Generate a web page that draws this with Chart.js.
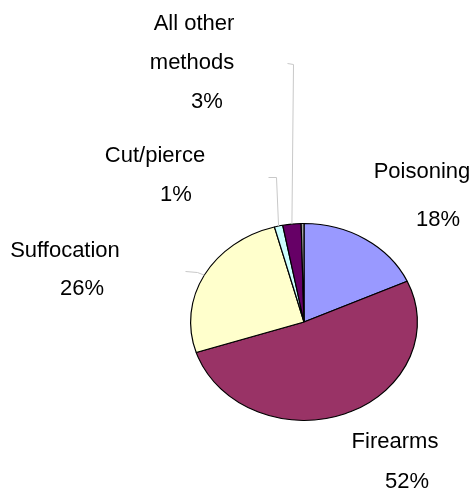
<!DOCTYPE html>
<html lang="en">
<head>
    <meta charset="UTF-8">
    <title>Methods</title>
    <script src="https://cdn.jsdelivr.net/npm/chart.js"></script>
    <style>
        html, body { margin: 0; padding: 0; background: #fff; }
        #wrap { width: 476px; height: 491px; }
    </style>
</head>
<body>
    <div id="wrap"><canvas id="pieChart" width="476" height="491"></canvas></div>

    <script>
        // Values (share of all cases, %)
        const methods = ['Poisoning', 'Firearms', 'Suffocation', 'Cut/pierce', 'All other methods', ''];
        const shares = [18.2, 51.8, 25.8, 1.2, 2.6, 0.4];
        const shareLabels = ['18%', '52%', '26%', '1%', '3%', ''];
        const sliceColors = ['#9999FF', '#993366', '#FFFFCC', '#CCFFFF', '#660066', '#A6A6A6'];

        // Label placement: [centerX, baseline] per text line, and leader elbows
        const labelLayout = [
            { lines: [[422, 178], [438, 226]], leader: null },
            { lines: [[395, 448], [407, 488]], leader: null },
            { lines: [[65, 257], [82, 295]], leader: [[197, 272], [185, 271]] },
            { lines: [[155, 162], [176, 201]], leader: [[276, 177], [268, 177]] },
            { lines: [[194, 30], [192, 69], [207, 108]], leader: [[293, 64], [287, 63]] },
            { lines: [], leader: null }
        ];

        const squash = 0.868; // the pie is drawn flattened
        const textFont = '22px "Liberation Sans", Arial, sans-serif';

        function nameLines(name) {
            if (name === 'All other methods') return ['All other', 'methods'];
            return [name];
        }

        const flattenPlugin = {
            id: 'flatten',
            beforeDatasetsDraw(chart) {
                const { ctx, chartArea } = chart;
                const cy = (chartArea.top + chartArea.bottom) / 2;
                ctx.save();
                ctx.translate(0, cy);
                ctx.scale(1, squash);
                ctx.translate(0, -cy);
            },
            afterDatasetsDraw(chart) {
                chart.ctx.restore();
            }
        };

        const labelPlugin = {
            id: 'sliceLabels',
            afterDraw(chart) {
                const ctx = chart.ctx;
                const arcs = chart.getDatasetMeta(0).data;
                ctx.save();

                // leader lines from slice edge
                ctx.strokeStyle = '#C8C8C8';
                ctx.lineWidth = 1;
                arcs.forEach((arc, i) => {
                    const lay = labelLayout[i];
                    if (!lay || !lay.leader) return;
                    const mid = (arc.startAngle + arc.endAngle) / 2;
                    const r = arc.outerRadius;
                    const sx = arc.x + r * Math.cos(mid);
                    const sy = arc.y + r * Math.sin(mid) * squash;
                    ctx.beginPath();
                    ctx.moveTo(sx, sy);
                    lay.leader.forEach(p => ctx.lineTo(p[0] + 0.5, p[1] + 0.5));
                    ctx.stroke();
                });

                // texts
                ctx.fillStyle = '#000';
                ctx.font = textFont;
                ctx.textAlign = 'center';
                ctx.textBaseline = 'alphabetic';
                methods.forEach((name, i) => {
                    const lay = labelLayout[i];
                    if (!name || !lay) return;
                    const texts = nameLines(name).concat([shareLabels[i]]);
                    texts.forEach((t, j) => {
                        const p = lay.lines[j];
                        if (p) ctx.fillText(t, p[0], p[1]);
                    });
                });
                ctx.restore();
            }
        };

        new Chart(document.getElementById('pieChart'), {
            type: 'pie',
            data: {
                labels: methods,
                datasets: [{
                    data: shares,
                    backgroundColor: sliceColors,
                    borderColor: '#000000',
                    borderWidth: 1.2,
                    hoverOffset: 0
                }]
            },
            options: {
                responsive: false,
                devicePixelRatio: 1,
                animation: false,
                events: [],
                layout: {
                    padding: { left: 190, right: 58, top: 208, bottom: 55 }
                },
                plugins: {
                    legend: { display: false },
                    tooltip: { enabled: false }
                }
            },
            plugins: [flattenPlugin, labelPlugin]
        });
    </script>
</body>
</html>
